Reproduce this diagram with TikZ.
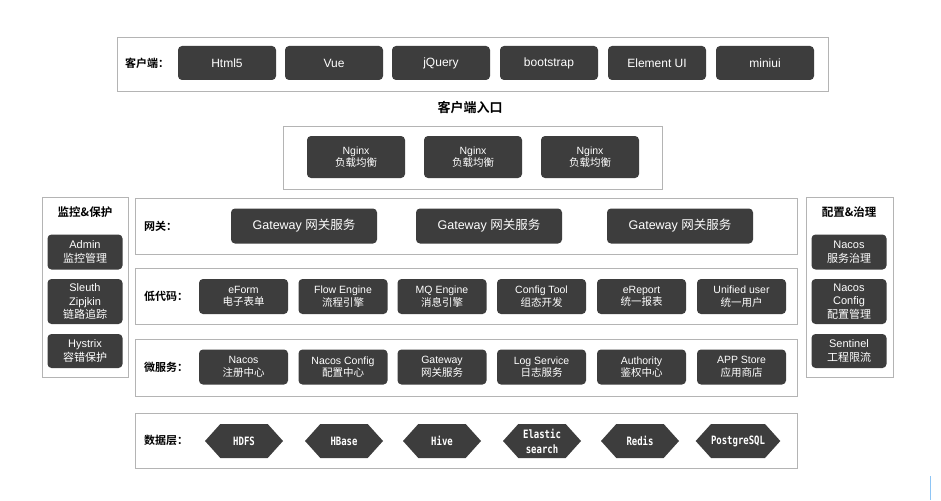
\documentclass[tikz,border=0pt]{standalone}
\usepackage{fontspec}
\setmainfont{Liberation Sans}
\newfontfamily\cjk{Noto Sans CJK SC}[BoldFont={* Bold}]
\newfontfamily\hexfont{DejaVu Sans Mono}[FakeStretch=0.78]
\usetikzlibrary{shapes.symbols}
\definecolor{btngray}{HTML}{3D3D3D}
\definecolor{framegray}{HTML}{B4B4B4}
\definecolor{cursorblue}{HTML}{8EC5F5}
\tikzset{
  frame/.style={draw=framegray, line width=1pt, fill=white, anchor=north west, inner sep=0pt},
  btn/.style={fill=btngray, rounded corners=4pt, text=white, align=center, inner sep=1pt, font=\fontsize{11}{12.5}\selectfont},
  topbtn/.style={btn, minimum width=98pt, minimum height=34pt, font=\fontsize{12}{13}\selectfont},
  ngbtn/.style={btn, minimum width=98pt, minimum height=42pt, font=\fontsize{10.5}{12.5}\selectfont},
  gwbtn/.style={btn, minimum width=146pt, minimum height=35pt, font=\fontsize{12.5}{14}\selectfont},
  rowbtn/.style={btn, minimum width=89pt, minimum height=35pt, font=\fontsize{10.5}{12.5}\selectfont},
  sidebtn/.style={btn, minimum width=75pt, font=\fontsize{11}{13.5}\selectfont},
  hexa/.style={shape=signal, signal to=east and west, signal pointer angle=96, fill=btngray, text=white, align=center, minimum width=78pt, minimum height=34pt, inner sep=0pt, font=\hexfont\bfseries\fontsize{11.5}{15}\selectfont},
  rowlabel/.style={anchor=west, font=\cjk\bfseries\fontsize{11}{13}\selectfont, inner sep=0pt},
  paneltitle/.style={font=\cjk\bfseries\fontsize{11.5}{13}\selectfont, inner sep=0pt}
}
\begin{document}
\begin{tikzpicture}[x=1pt,y=-1pt]
\path[use as bounding box, fill=white] (0,0) rectangle (941,500);

% client row
\node[frame, minimum width=711pt, minimum height=54pt] (clientframe) at (117,37) {};
\node[rowlabel] (clientlabel) at (125,63) {客户端：};
\node[topbtn] (html5) at (227,63) {Html5};
\node[topbtn] (vue) at (334,63) {Vue};
\node[topbtn] (jquery) at (441,63) {jQuery};
\node[topbtn] (bootstrap) at (549,63) {bootstrap};
\node[topbtn] (elementui) at (657,63) {Element UI};
\node[topbtn] (miniui) at (765,63) {miniui};

% entry
\node[font=\cjk\bfseries\fontsize{13}{15}\selectfont] (entrytitle) at (470,108) {客户端入口};
\node[frame, minimum width=379pt, minimum height=63pt] (entryframe) at (283,126) {};
\node[ngbtn] (ng1) at (356,157) {Nginx\\{\cjk 负载均衡}};
\node[ngbtn] (ng2) at (473,157) {Nginx\\{\cjk 负载均衡}};
\node[ngbtn] (ng3) at (590,157) {Nginx\\{\cjk 负载均衡}};

% left panel
\node[frame, minimum width=86pt, minimum height=180pt] (leftframe) at (42,197) {};
\node[paneltitle] (lefttitle) at (85,212) {监控\&保护};
\node[sidebtn, minimum height=35pt] (admin) at (85,252) {Admin\\{\cjk 监控管理}};
\node[sidebtn, minimum height=45pt] (sleuth) at (85,301.5) {Sleuth\\Zipjkin\\{\cjk 链路追踪}};
\node[sidebtn, minimum height=34pt] (hystrix) at (85,351) {Hystrix\\{\cjk 容错保护}};

% right panel
\node[frame, minimum width=87pt, minimum height=180pt] (rightframe) at (806,197) {};
\node[paneltitle] (righttitle) at (849,212) {配置\&治理};
\node[sidebtn, minimum height=35pt] (nacosgov) at (849,252) {Nacos\\{\cjk 服务治理}};
\node[sidebtn, minimum height=45pt] (nacoscfg) at (849,301.5) {Nacos\\Config\\{\cjk 配置管理}};
\node[sidebtn, minimum height=34pt] (sentinel) at (849,351) {Sentinel\\{\cjk 工程限流}};

% gateway row
\node[frame, minimum width=662pt, minimum height=56pt] (gwframe) at (135,198) {};
\node[rowlabel] (gwlabel) at (144,226) {网关：};
\node[gwbtn] (gw1) at (304,226) {Gateway {\cjk 网关服务}};
\node[gwbtn] (gw2) at (489,226) {Gateway {\cjk 网关服务}};
\node[gwbtn] (gw3) at (680,226) {Gateway {\cjk 网关服务}};

% low code row
\node[frame, minimum width=662pt, minimum height=56pt] (lcframe) at (135,268) {};
\node[rowlabel] (lclabel) at (144,296) {低代码：};
\node[rowbtn] (eform) at (243.5,296.5) {eForm\\{\cjk 电子表单}};
\node[rowbtn] (flow) at (343,296.5) {Flow Engine\\{\cjk 流程引擎}};
\node[rowbtn] (mq) at (442,296.5) {MQ Engine\\{\cjk 消息引擎}};
\node[rowbtn] (cfgtool) at (541.5,296.5) {Config Tool\\{\cjk 组态开发}};
\node[rowbtn] (ereport) at (641.5,296.5) {eReport\\{\cjk 统一报表}};
\node[rowbtn] (unified) at (741.5,296.5) {Unified user\\{\cjk 统一用户}};

% micro service row
\node[frame, minimum width=662pt, minimum height=57pt] (msframe) at (135,339) {};
\node[rowlabel] (mslabel) at (144,367) {微服务：};
\node[rowbtn] (nacos) at (243.5,367) {Nacos\\{\cjk 注册中心}};
\node[rowbtn] (nacosconfig) at (343,367) {Nacos Config\\{\cjk 配置中心}};
\node[rowbtn] (gateway) at (442,367) {Gateway\\{\cjk 网关服务}};
\node[rowbtn] (logsvc) at (541.5,367) {Log Service\\{\cjk 日志服务}};
\node[rowbtn] (authority) at (641.5,367) {Authority\\{\cjk 鉴权中心}};
\node[rowbtn] (appstore) at (741.5,367) {APP Store\\{\cjk 应用商店}};

% data row
\node[frame, minimum width=662pt, minimum height=55pt] (dataframe) at (135,413) {};
\node[rowlabel] (datalabel) at (144,440.5) {数据层：};
\node[hexa] (hdfs) at (244,441) {HDFS};
\node[hexa] (hbase) at (344,441) {HBase};
\node[hexa] (hive) at (442,441) {Hive};
\node[hexa] (elastic) at (542,441) {Elastic\\search};
\node[hexa] (redis) at (640,441) {Redis};
\node[hexa] (pg) at (738,441) {PostgreSQL};

% cursor mark
\coordinate (curtop) at (930.5,476);
\coordinate (curbot) at (930.5,500);
\draw[cursorblue, line width=1.4pt] (curtop) -- (curbot);
\end{tikzpicture}
\end{document}
